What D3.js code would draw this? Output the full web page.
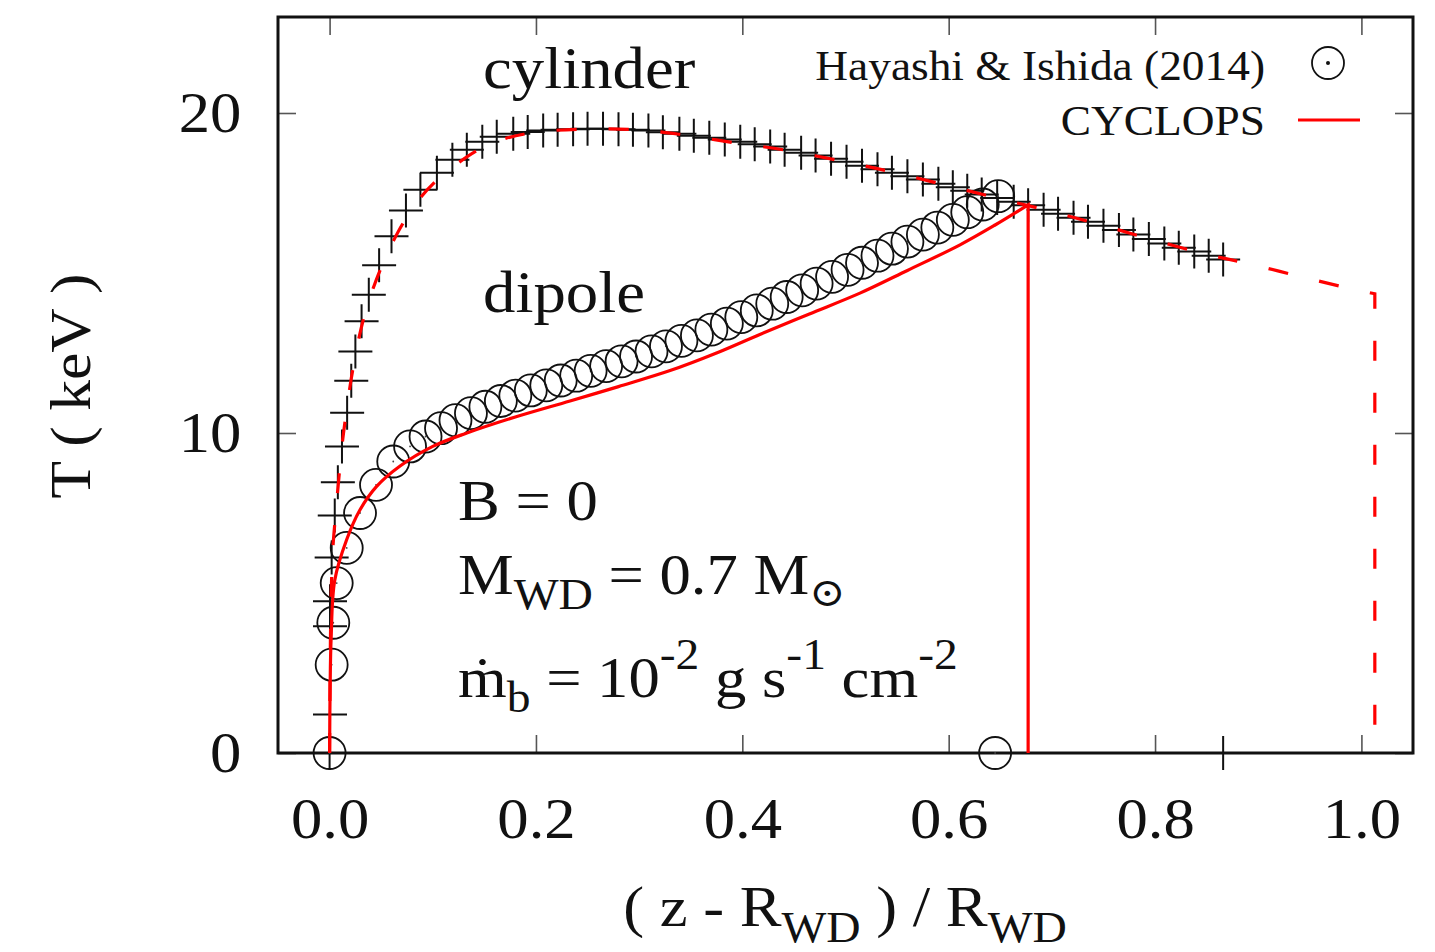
<!DOCTYPE html>
<html><head><meta charset="utf-8">
<script src="https://cdn.jsdelivr.net/npm/d3@7"></script>
<style>
html,body{margin:0;padding:0;background:#fff;}
svg{display:block;}
text{font-family:"Liberation Serif","DejaVu Serif",serif;fill:#111;}
</style></head><body>
<svg id="chart" width="1435" height="952"></svg>
<script>
// axis ticks
const xTicks = [0, 0.2, 0.4, 0.6, 0.8, 1.0];
const xTickLabels = ["0.0", "0.2", "0.4", "0.6", "0.8", "1.0"];
const yTicks = [0, 10, 20];
const yTickLabels = ["0", "10", "20"];

// Hayashi & Ishida (2014), cylinder geometry (plus markers)
const cylX = [0, 0.0004, 0.0004, 0.0004, 0.002, 0.005, 0.008, 0.012, 0.017, 0.021, 0.025, 0.031, 0.038, 0.048, 0.060, 0.074, 0.088, 0.104, 0.119, 0.133, 0.148, 0.162, 0.178, 0.192, 0.207, 0.221, 0.236, 0.250, 0.265, 0.280, 0.294, 0.309, 0.323, 0.339, 0.353, 0.368, 0.383, 0.398, 0.412, 0.427, 0.441, 0.457, 0.471, 0.486, 0.501, 0.516, 0.531, 0.545, 0.560, 0.575, 0.590, 0.604, 0.618, 0.632, 0.647, 0.663, 0.677, 0.692, 0.706, 0.721, 0.735, 0.750, 0.765, 0.779, 0.794, 0.809, 0.823, 0.838, 0.852, 0.866, 0.866];
const cylT = [0, 1.20, 3.96, 4.74, 6.11, 7.42, 8.46, 9.58, 10.63, 11.63, 12.55, 13.49, 14.32, 15.24, 16.15, 16.95, 17.60, 18.13, 18.54, 18.85, 19.10, 19.26, 19.35, 19.41, 19.45, 19.48, 19.49, 19.51, 19.51, 19.49, 19.48, 19.45, 19.40, 19.35, 19.29, 19.23, 19.17, 19.10, 19.02, 18.95, 18.85, 18.76, 18.67, 18.57, 18.48, 18.35, 18.24, 18.13, 18.02, 17.92, 17.79, 17.68, 17.57, 17.45, 17.34, 17.23, 17.12, 16.98, 16.85, 16.73, 16.60, 16.48, 16.34, 16.20, 16.06, 15.92, 15.79, 15.67, 15.54, 15.42, 0];

// Hayashi & Ishida (2014), dipole geometry (open circles)
const dipX = [0, 0.002, 0.0036, 0.0069, 0.0166, 0.0295, 0.045, 0.0617, 0.078, 0.093, 0.108, 0.122, 0.137, 0.151, 0.166, 0.180, 0.195, 0.210, 0.224, 0.239, 0.253, 0.268, 0.283, 0.297, 0.312, 0.326, 0.341, 0.356, 0.370, 0.385, 0.399, 0.414, 0.429, 0.443, 0.458, 0.472, 0.487, 0.502, 0.516, 0.531, 0.545, 0.560, 0.575, 0.589, 0.604, 0.618, 0.633, 0.648, 0.645];
const dipT = [0, 2.76, 4.07, 5.31, 6.41, 7.50, 8.38, 9.11, 9.58, 9.89, 10.15, 10.40, 10.62, 10.82, 11.00, 11.17, 11.33, 11.49, 11.64, 11.79, 11.94, 12.09, 12.24, 12.39, 12.55, 12.71, 12.88, 13.05, 13.23, 13.42, 13.62, 13.83, 14.04, 14.25, 14.46, 14.67, 14.88, 15.10, 15.32, 15.54, 15.76, 15.98, 16.20, 16.42, 16.66, 16.90, 17.14, 17.40, 0];

// CYCLOPS, cylinder geometry (dashed)
const cycCylX = [0, 0.0008, 0.002, 0.0036, 0.006, 0.009, 0.012, 0.016, 0.021, 0.027, 0.034, 0.042, 0.051, 0.061, 0.072, 0.088, 0.104, 0.125, 0.147, 0.17, 0.2, 0.25, 0.3, 0.34, 0.39, 0.44, 0.5, 0.55, 0.6, 0.65, 0.7, 0.75, 0.8, 0.85, 0.887, 0.937, 0.987, 1.013, 1.013];
const cycCylT = [0, 3.5, 5.5, 6.6, 7.5, 8.6, 9.6, 10.6, 11.7, 12.75, 13.7, 14.5, 15.25, 15.95, 16.6, 17.35, 17.9, 18.45, 18.9, 19.2, 19.4, 19.5, 19.47, 19.33, 19.08, 18.85, 18.47, 18.12, 17.72, 17.32, 16.92, 16.48, 16.02, 15.58, 15.32, 14.92, 14.53, 14.35, 0];

// CYCLOPS, dipole geometry (solid)
const cycDipX = [0, 0.0005, 0.0015, 0.005, 0.0166, 0.0295, 0.0456, 0.068, 0.1, 0.133, 0.18, 0.233, 0.28, 0.33, 0.375, 0.417, 0.465, 0.514, 0.56, 0.611, 0.645, 0.677, 0.677];
const cycDipT = [0, 2.0, 3.6, 5.4, 6.67, 7.6, 8.33, 8.96, 9.58, 10.0, 10.5, 11.0, 11.45, 11.95, 12.5, 13.08, 13.72, 14.37, 15.08, 15.88, 16.5, 17.13, 0];

const svg = d3.select("#chart");
const x = d3.scaleLinear().domain([-0.05, 1.05]).range([278, 1413]);
const y = d3.scaleLinear().domain([0, 23]).range([753, 17]);
const SX = 1.08;           // glyph width factor for all labels
const FONT = '"Liberation Serif","DejaVu Serif",serif';

const zip = (a, b) => a.map((v, i) => [v, b[i]]);

function styleAxis(g) {
  g.select(".domain").remove();
  g.selectAll(".tick line").attr("stroke", "#555").attr("stroke-width", 1.6);
  g.selectAll(".tick text").attr("font-size", 58).attr("fill", "#111").attr("font-family", FONT)
    .attr("transform", `scale(${SX},1)`);
}

// axes: ticks pointing inward on all four sides
svg.append("g").attr("transform", `translate(0,${y(0)})`)
  .call(d3.axisBottom(x).tickValues(xTicks).tickFormat((d, i) => xTickLabels[i])
    .tickSizeInner(-18).tickSizeOuter(0).tickPadding(44))
  .call(styleAxis);
svg.append("g").attr("transform", `translate(0,${y(23)})`)
  .call(d3.axisTop(x).tickValues(xTicks).tickFormat("").tickSizeInner(-18).tickSizeOuter(0))
  .call(styleAxis);
svg.append("g").attr("transform", `translate(${x(-0.05)},0)`)
  .call(d3.axisLeft(y).tickValues(yTicks).tickFormat((d, i) => yTickLabels[i])
    .tickSizeInner(-18).tickSizeOuter(0).tickPadding(34))
  .call(styleAxis);
svg.append("g").attr("transform", `translate(${x(1.05)},0)`)
  .call(d3.axisRight(y).tickValues(yTicks).tickFormat("").tickSizeInner(-18).tickSizeOuter(0))
  .call(styleAxis);

// frame
svg.append("rect")
  .attr("x", x(-0.05)).attr("y", y(23))
  .attr("width", x(1.05) - x(-0.05)).attr("height", y(0) - y(23))
  .attr("fill", "none").attr("stroke", "#111").attr("stroke-width", 3);

// data markers
const plusPath = "M-17,0H17M0,-17V17";
svg.append("g").selectAll("path").data(zip(cylX, cylT)).join("path")
  .attr("d", plusPath)
  .attr("transform", d => `translate(${x(d[0])},${y(d[1])})`)
  .attr("fill", "none").attr("stroke", "#111").attr("stroke-width", 2);

const circ = svg.append("g").selectAll("g").data(zip(dipX, dipT)).join("g")
  .attr("transform", d => `translate(${x(d[0])},${y(d[1])})`);
circ.append("circle").attr("r", 16).attr("fill", "none").attr("stroke", "#111").attr("stroke-width", 1.8);
circ.append("circle").attr("r", 0.9).attr("fill", "#444");

// model curves: smooth profile, then a straight drop at the shock
const smooth = d3.line().x(d => x(d[0])).y(d => y(d[1])).curve(d3.curveCatmullRom.alpha(0.5));
function profilePath(xs, ts) {
  const pts = zip(xs, ts);
  const last = pts[pts.length - 1];
  return smooth(pts.slice(0, -1)) + `L${x(last[0])},${y(last[1])}`;
}
svg.append("path").attr("d", profilePath(cycCylX, cycCylT))
  .attr("fill", "none").attr("stroke", "#ff0000").attr("stroke-width", 3.2)
  .attr("stroke-dasharray", "20,32");
svg.append("path").attr("d", profilePath(cycDipX, cycDipT))
  .attr("fill", "none").attr("stroke", "#ff0000").attr("stroke-width", 3.2);

// text placed at an anchor with a slight horizontal widening
function label(ax, ay, size, anchor) {
  return svg.append("g").attr("transform", `translate(${ax},${ay}) scale(${SX},1)`)
    .append("text").attr("font-size", size).attr("text-anchor", anchor || "start");
}

// legend
label(1265, 80, 42, "end").text("Hayashi & Ishida (2014)");
svg.append("circle").attr("cx", 1328).attr("cy", 63).attr("r", 16).attr("fill", "none")
  .attr("stroke", "#111").attr("stroke-width", 1.8);
svg.append("circle").attr("cx", 1328).attr("cy", 63).attr("r", 2).attr("fill", "#111");
label(1265, 135, 42, "end").text("CYCLOPS");
svg.append("line").attr("x1", 1298).attr("x2", 1360).attr("y1", 120).attr("y2", 120)
  .attr("stroke", "#ff0000").attr("stroke-width", 3.2);

// curve labels
label(483, 88, 60).text("cylinder");
label(483, 312, 60).text("dipole");

// parameter block
const fs = 58, sub = 44;
label(458, 520, fs).text("B = 0");

const t2 = label(458, 594, fs);
t2.append("tspan").text("M");
t2.append("tspan").attr("font-size", sub).attr("dy", 15).text("WD");
t2.append("tspan").attr("dy", -15).text(" = 0.7 M");
t2.append("tspan").attr("font-size", 40).attr("dy", 12).attr("font-family", '"DejaVu Serif",serif').text("⊙");

const t3 = label(458, 697, fs);
t3.append("tspan").text("ṁ");
t3.append("tspan").attr("font-size", sub).attr("dy", 15).text("b");
t3.append("tspan").attr("dy", -15).text(" = 10");
t3.append("tspan").attr("font-size", sub).attr("dy", -28).text("-2");
t3.append("tspan").attr("dy", 28).text(" g s");
t3.append("tspan").attr("font-size", sub).attr("dy", -28).text("-1");
t3.append("tspan").attr("dy", 28).text(" cm");
t3.append("tspan").attr("font-size", sub).attr("dy", -28).text("-2");

// axis titles
const xl = label(845, 926, 58, "middle");
xl.append("tspan").text("( z - R");
xl.append("tspan").attr("font-size", 44).attr("dy", 16).text("WD");
xl.append("tspan").attr("dy", -16).text(" ) / R");
xl.append("tspan").attr("font-size", 44).attr("dy", 16).text("WD");

svg.append("g").attr("transform", "translate(90,386) rotate(-90) scale(1.08,1)")
  .append("text").attr("text-anchor", "middle").attr("font-size", 57).text("T ( keV )");
</script>
</body></html>
